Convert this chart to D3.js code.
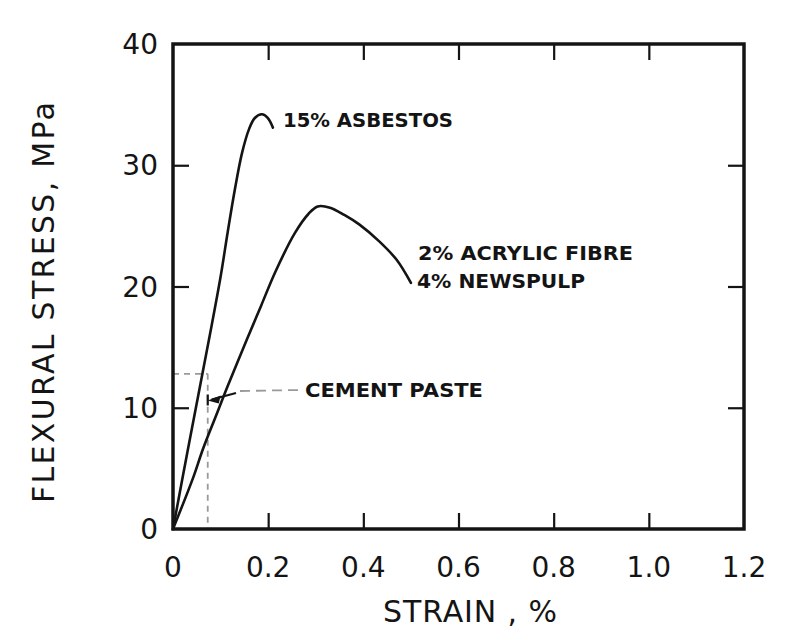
<!DOCTYPE html>
<html>
<head>
<meta charset="utf-8">
<script src="https://cdn.jsdelivr.net/npm/d3@7"></script>
<style>
  html, body { margin: 0; padding: 0; background: #fff; }
  svg { display: block; }
  text { font-family: "DejaVu Sans", sans-serif; fill: #141414; }
</style>
</head>
<body>
<svg id="chart" width="787" height="641"></svg>
<script>
// Flexural stress–strain curves of fibre-reinforced cement composites.
const asbestosStrain = [0, 0.031, 0.0755, 0.100, 0.115, 0.130, 0.145, 0.160, 0.172, 0.187, 0.199, 0.210];
const asbestosStress = [0, 6.5, 15.6, 20.8, 24.5, 28.0, 31.0, 33.0, 33.9, 34.2, 33.9, 33.1];

const acrylicStrain = [0, 0.042, 0.063, 0.090, 0.115, 0.155, 0.185, 0.215, 0.256, 0.285, 0.304, 0.330, 0.360, 0.392, 0.434, 0.470, 0.500];
const acrylicStress = [0, 4.2, 6.6, 9.3, 11.8, 15.6, 18.4, 21.2, 24.4, 26.0, 26.6, 26.5, 25.9, 25.1, 23.7, 22.2, 20.3];

// Cement paste failure point (projected onto both axes)
const pasteStrain = 0.073;
const pasteStress = 12.8;

const xTicks = [0, 0.2, 0.4, 0.6, 0.8, 1.0, 1.2];
const xTickLabels = ["0", "0.2", "0.4", "0.6", "0.8", "1.0", "1.2"];
const yTicks = [0, 10, 20, 30, 40];
const yTickLabels = ["0", "10", "20", "30", "40"];

const svg = d3.select("#chart");
const plotLeft = 173, plotRight = 744, plotTop = 44, plotBottom = 529;

const x = d3.scaleLinear().domain([0, 1.2]).range([plotLeft, plotRight]);
const y = d3.scaleLinear().domain([0, 40]).range([plotBottom, plotTop]);

const ink = "#141414";
const tickLen = 16;

// Inward ticks on all four sides
const innerX = xTicks.slice(1, -1), innerY = yTicks.slice(1, -1);
const axisStyle = g => {
  g.select(".domain").remove();
  g.selectAll(".tick line").attr("stroke", ink).attr("stroke-width", 2.2);
  g.selectAll(".tick text").remove();
};
svg.append("g").attr("transform", `translate(0,${plotBottom})`)
  .call(d3.axisTop(x).tickValues(innerX).tickSize(tickLen)).call(axisStyle);
svg.append("g").attr("transform", `translate(0,${plotTop})`)
  .call(d3.axisBottom(x).tickValues(innerX).tickSize(tickLen)).call(axisStyle);
svg.append("g").attr("transform", `translate(${plotLeft},0)`)
  .call(d3.axisRight(y).tickValues(innerY).tickSize(tickLen)).call(axisStyle);
svg.append("g").attr("transform", `translate(${plotRight},0)`)
  .call(d3.axisLeft(y).tickValues(innerY).tickSize(tickLen)).call(axisStyle);

// Tick labels
svg.append("g").selectAll("text").data(xTicks).join("text")
  .attr("x", d => x(d)).attr("y", 577)
  .attr("text-anchor", "middle").attr("font-size", 28)
  .text((d, i) => xTickLabels[i]);
svg.append("g").selectAll("text").data(yTicks).join("text")
  .attr("x", 158).attr("y", d => y(d) + 10)
  .attr("text-anchor", "end").attr("font-size", 28)
  .text((d, i) => yTickLabels[i]);

// Cement paste projection lines (dashed, faint)
const dashColor = "#9a9a9a";
svg.append("line")
  .attr("x1", x(0)).attr("y1", y(pasteStress)).attr("x2", x(pasteStrain)).attr("y2", y(pasteStress))
  .attr("stroke", dashColor).attr("stroke-width", 1.8).attr("stroke-dasharray", "6 5");
svg.append("line")
  .attr("x1", x(pasteStrain)).attr("y1", y(pasteStress)).attr("x2", x(pasteStrain)).attr("y2", y(0))
  .attr("stroke", dashColor).attr("stroke-width", 1.8).attr("stroke-dasharray", "6 5");

// Curves
const line = d3.line().x(d => x(d[0])).y(d => y(d[1])).curve(d3.curveCatmullRom.alpha(0.5));
const curve = (xs, ys) => xs.map((v, i) => [v, ys[i]]);
svg.append("path").datum(curve(asbestosStrain, asbestosStress))
  .attr("d", line).attr("fill", "none").attr("stroke", ink).attr("stroke-width", 2.6)
  .attr("stroke-linecap", "round").attr("stroke-linejoin", "round");
svg.append("path").datum(curve(acrylicStrain, acrylicStress))
  .attr("d", line).attr("fill", "none").attr("stroke", ink).attr("stroke-width", 2.6)
  .attr("stroke-linecap", "round").attr("stroke-linejoin", "round");

// Frame
svg.append("rect").attr("x", plotLeft).attr("y", plotTop)
  .attr("width", plotRight - plotLeft).attr("height", plotBottom - plotTop)
  .attr("fill", "none").attr("stroke", ink).attr("stroke-width", 3.5);

// Cement paste leader with arrow
const tipX = x(pasteStrain), tipY = y(10.6);
svg.append("line").attr("x1", 240).attr("y1", 391).attr("x2", 300).attr("y2", 390)
  .attr("stroke", dashColor).attr("stroke-width", 1.8).attr("stroke-dasharray", "10 6");
svg.append("line").attr("x1", tipX + 4).attr("y1", tipY - 1).attr("x2", 236).attr("y2", 393)
  .attr("stroke", ink).attr("stroke-width", 2.2);
svg.append("path")
  .attr("d", `M${tipX},${tipY} l13,-5 l-2,8 z`)
  .attr("fill", ink);
svg.append("line").attr("x1", tipX).attr("y1", tipY - 6).attr("x2", tipX).attr("y2", tipY + 5)
  .attr("stroke", ink).attr("stroke-width", 2.2);

// Curve labels
const label = (t, lx, ly, len) => svg.append("text")
  .attr("x", lx).attr("y", ly).attr("font-size", 20).attr("font-weight", "bold")
  .attr("textLength", len).attr("lengthAdjust", "spacingAndGlyphs").text(t);
label("15% ASBESTOS", 283, 127, 170);
label("2% ACRYLIC FIBRE", 418, 260, 215);
label("4% NEWSPULP", 417, 288, 168);
label("CEMENT PASTE", 305, 397, 178);

// Axis titles
svg.append("text").attr("x", 383).attr("y", 622).attr("font-size", 30)
  .attr("textLength", 174).attr("lengthAdjust", "spacing").text("STRAIN , %");
svg.append("text").attr("transform", "translate(54,503) rotate(-90)")
  .attr("font-size", 30).attr("textLength", 401).attr("lengthAdjust", "spacing")
  .text("FLEXURAL STRESS, MPa");
</script>
</body>
</html>
